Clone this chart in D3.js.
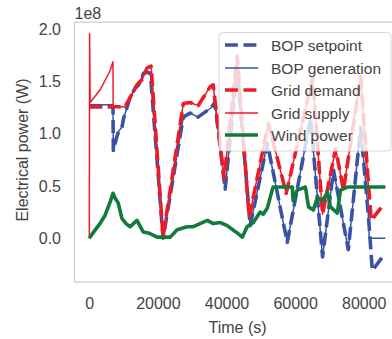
<!DOCTYPE html>
<html><head><meta charset="utf-8">
<script src="https://cdn.jsdelivr.net/npm/d3@7"></script>
<style>body{margin:0;background:#fff}svg{display:block}</style>
</head><body>
<script>
// ---- data (time in s, power in 1e8 W) ----
const setpointTime = [0, 6900, 7000, 8000, 8600, 9500, 10000, 11900, 13400, 14400, 15800, 16800, 17800, 21500, 27400, 29400, 31700, 35500, 36600, 39600, 43100, 46900, 51900, 57700, 64500, 68000, 71200, 75500, 79100, 81400, 82500, 85700];
const setpointValues = [1.26, 1.26, 0.84, 0.97, 1.03, 1.06, 1.15, 1.35, 1.44, 1.47, 1.58, 1.59, 1.58, 0.0, 1.16, 1.20, 1.16, 1.25, 1.30, 0.47, 1.62, 0.12, 0.91, -0.04, 1.15, -0.18, 0.65, -0.11, 1.06, 0.20, -0.31, -0.17];

const generationTime = [0, 6900, 7000, 8000, 8600, 9500, 10000, 11900, 13400, 14400, 15800, 16800, 17800, 21500, 27400, 29400, 31700, 35500, 36600, 39600, 43100, 46900, 51900, 57700, 64500, 68000, 71200, 75500, 79100, 81300, 81600, 86300];
const generationValues = [1.28, 1.28, 0.84, 0.97, 1.03, 1.06, 1.15, 1.35, 1.44, 1.47, 1.58, 1.59, 1.58, 0.0, 1.16, 1.20, 1.16, 1.25, 1.30, 0.47, 1.62, 0.12, 0.91, -0.04, 1.15, -0.18, 0.65, -0.11, 1.06, 0.27, 0.0, 0.0];

const demandTime = [0, 10400, 13900, 15400, 16800, 18000, 21500, 27400, 29400, 31700, 35200, 36100, 39300, 43100, 46600, 52200, 57400, 65100, 68000, 71800, 74100, 79100, 81600, 82200, 85700];
const demandValues = [1.26, 1.26, 1.47, 1.52, 1.63, 1.65, 0.01, 1.29, 1.30, 1.27, 1.45, 1.47, 0.57, 1.75, 0.20, 1.10, 0.43, 1.54, 0.23, 0.86, 0.46, 1.55, 0.42, 0.17, 0.32];

const supplyTime = [0, 80, 250, 3100, 6000, 6900, 6950, 10400, 13900, 15400, 16800, 18000, 21500, 27400, 29400, 31700, 35200, 36100, 39300, 43100, 46600, 52200, 57400, 65100, 68000, 71800, 74100, 79100, 81400, 81600, 86300];
const supplyValues = [0.0, 1.96, 1.30, 1.42, 1.60, 1.69, 1.26, 1.26, 1.47, 1.52, 1.63, 1.65, 0.01, 1.29, 1.30, 1.27, 1.45, 1.47, 0.57, 1.75, 0.20, 1.10, 0.43, 1.54, 0.23, 0.86, 0.46, 1.55, 0.48, 0.49, 0.49];

const windTime = [0, 1500, 3100, 4600, 6000, 6900, 7600, 8400, 9500, 10700, 11900, 13900, 15700, 17200, 18600, 19800, 23600, 25600, 28500, 30300, 32300, 34400, 36100, 38200, 40200, 43100, 44600, 46000, 47800, 49800, 50700, 51900, 53300, 53600, 59200, 59400, 60600, 63000, 63900, 65300, 66500, 68000, 69400, 70300, 72300, 73200, 75300, 86300];
const windValues = [0.0, 0.07, 0.14, 0.22, 0.34, 0.43, 0.38, 0.34, 0.19, 0.14, 0.11, 0.17, 0.06, 0.05, 0.03, 0.01, 0.01, 0.08, 0.11, 0.11, 0.14, 0.17, 0.14, 0.15, 0.12, 0.05, 0.01, 0.11, 0.15, 0.25, 0.23, 0.29, 0.46, 0.49, 0.49, 0.36, 0.46, 0.49, 0.30, 0.27, 0.39, 0.36, 0.44, 0.30, 0.24, 0.46, 0.49, 0.49];

const xTicks = [0, 20000, 40000, 60000, 80000];
const yTicks = [0, 0.5, 1.0, 1.5, 2.0];
const legendLabels = ["BOP setpoint", "BOP generation", "Grid demand", "Grid supply", "Wind power"];

// ---- drawing ----
const W = 392, H = 339;
const L = 74.5, R = 400.5, T = 22, B = 282;
const FONT = "'Liberation Sans', Arial, sans-serif";
const TXT = "#444444";
const BLUE = "#3a53a4", RED = "#ec1c27", GREEN = "#137b3a";

const svg = d3.select("body").append("svg").attr("width", W).attr("height", H);
const x = d3.scaleLinear().domain([-4320, 90720]).range([L, R]);
const y = d3.scaleLinear().domain([-0.42, 2.072]).range([B, T]);

svg.append("defs").append("clipPath").attr("id", "clip")
  .append("rect").attr("x", L).attr("y", T).attr("width", R - L).attr("height", B - T);

const series = [
  {t: setpointTime, v: setpointValues, color: BLUE, w: 3.6, dash: "12.9,5.6"},
  {t: generationTime, v: generationValues, color: BLUE, w: 1.5, dash: null},
  {t: demandTime, v: demandValues, color: RED, w: 3.6, dash: "12.9,5.6"},
  {t: supplyTime, v: supplyValues, color: RED, w: 1.5, dash: null},
  {t: windTime, v: windValues, color: GREEN, w: 3.6, dash: null}
];

const line = d3.line().x(d => x(d[0])).y(d => y(d[1]));
const g = svg.append("g").attr("clip-path", "url(#clip)");
series.forEach(s => {
  g.append("path")
    .attr("d", line(s.t.map((t, i) => [t, s.v[i]])))
    .attr("fill", "none").attr("stroke", s.color).attr("stroke-width", s.w)
    .attr("stroke-linejoin", "round")
    .attr("stroke-dasharray", s.dash);
});

// spines
const spine = svg.append("g").attr("stroke", "#cccccc").attr("stroke-width", 1.25).attr("fill", "none");
spine.append("path").attr("d", `M${L},${T}H${R + 5}M${L},${T}V${B}M${L},${B}H${R + 5}`);

// axes
const xAxis = svg.append("g").attr("transform", `translate(0,${B})`)
  .call(d3.axisBottom(x).tickValues(xTicks).tickFormat(d3.format("d")).tickSize(0).tickPadding(16));
const yAxis = svg.append("g").attr("transform", `translate(${L},0)`)
  .call(d3.axisLeft(y).tickValues(yTicks).tickFormat(d3.format(".1f")).tickSize(0).tickPadding(13.5));
[xAxis, yAxis].forEach(a => {
  a.select(".domain").remove();
  a.selectAll("text").attr("font-family", FONT).attr("font-size", 16).attr("fill", TXT);
});

svg.append("text").attr("x", L).attr("y", 19).text("1e8")
  .attr("font-family", FONT).attr("font-size", 16).attr("fill", TXT);
svg.append("text").attr("x", (L + R) / 2).attr("y", 333).attr("text-anchor", "middle").text("Time (s)")
  .attr("font-family", FONT).attr("font-size", 16).attr("fill", TXT);
svg.append("text").attr("transform", "translate(28,150) rotate(-90)").attr("text-anchor", "middle")
  .text("Electrical power (W)").attr("font-family", FONT).attr("font-size", 16).attr("fill", TXT);

// legend
const lg = svg.append("g");
lg.append("rect").attr("x", 219).attr("y", 32.5).attr("width", 172).attr("height", 118.5).attr("rx", 4)
  .attr("fill", "#fff").attr("fill-opacity", 0.8).attr("stroke", "#cccccc").attr("stroke-opacity", 0.8).attr("stroke-width", 1);
legendLabels.forEach((lab, i) => {
  const s = series[i];
  const ry = Math.round(45 + i * 22.5);
  lg.append("line").attr("x1", 225).attr("x2", 258).attr("y1", ry).attr("y2", ry)
    .attr("stroke", s.color).attr("stroke-width", s.w).attr("stroke-dasharray", s.dash);
  lg.append("text").attr("x", 271).attr("y", ry + 6).text(lab)
    .attr("font-family", FONT).attr("font-size", 15.5).attr("font-weight", 400).attr("fill", TXT);
});
</script>
</body></html>
